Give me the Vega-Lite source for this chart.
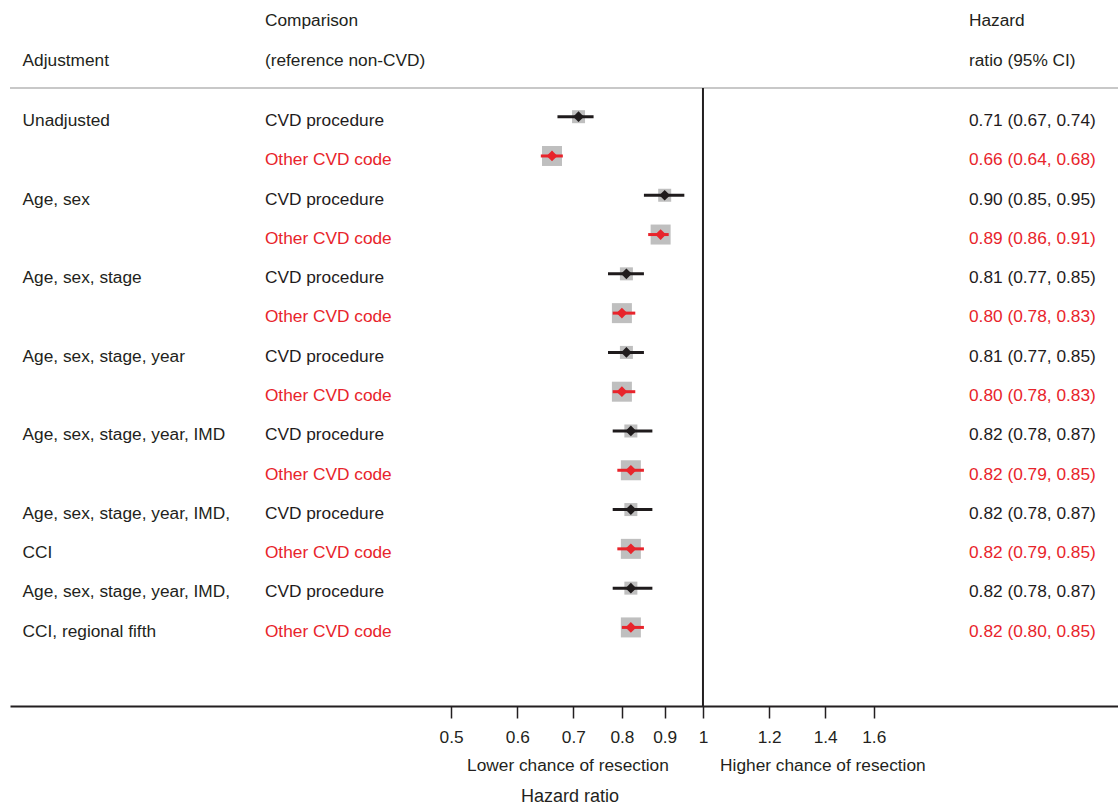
{
  "$schema": "https://vega.github.io/schema/vega-lite/v6.json",
  "width": 1108,
  "height": 706,
  "autosize": {"type": "none"},
  "padding": {"left": 10, "top": 0, "right": 0, "bottom": 98},
  "background": "white",
  "config": {"view": {"stroke": null}, "font": "Liberation Sans"},
  "datasets": {
    "rows": [
      {"row": 1, "adjustment": "Unadjusted", "comparison": "CVD procedure", "hr": 0.71, "lo": 0.67, "hi": 0.74, "ci": "0.71 (0.67, 0.74)"},
      {"row": 2, "adjustment": "", "comparison": "Other CVD code", "hr": 0.66, "lo": 0.64, "hi": 0.68, "ci": "0.66 (0.64, 0.68)"},
      {"row": 3, "adjustment": "Age, sex", "comparison": "CVD procedure", "hr": 0.90, "lo": 0.85, "hi": 0.95, "ci": "0.90 (0.85, 0.95)"},
      {"row": 4, "adjustment": "", "comparison": "Other CVD code", "hr": 0.89, "lo": 0.86, "hi": 0.91, "ci": "0.89 (0.86, 0.91)"},
      {"row": 5, "adjustment": "Age, sex, stage", "comparison": "CVD procedure", "hr": 0.81, "lo": 0.77, "hi": 0.85, "ci": "0.81 (0.77, 0.85)"},
      {"row": 6, "adjustment": "", "comparison": "Other CVD code", "hr": 0.80, "lo": 0.78, "hi": 0.83, "ci": "0.80 (0.78, 0.83)"},
      {"row": 7, "adjustment": "Age, sex, stage, year", "comparison": "CVD procedure", "hr": 0.81, "lo": 0.77, "hi": 0.85, "ci": "0.81 (0.77, 0.85)"},
      {"row": 8, "adjustment": "", "comparison": "Other CVD code", "hr": 0.80, "lo": 0.78, "hi": 0.83, "ci": "0.80 (0.78, 0.83)"},
      {"row": 9, "adjustment": "Age, sex, stage, year, IMD", "comparison": "CVD procedure", "hr": 0.82, "lo": 0.78, "hi": 0.87, "ci": "0.82 (0.78, 0.87)"},
      {"row": 10, "adjustment": "", "comparison": "Other CVD code", "hr": 0.82, "lo": 0.79, "hi": 0.85, "ci": "0.82 (0.79, 0.85)"},
      {"row": 11, "adjustment": "Age, sex, stage, year, IMD,", "comparison": "CVD procedure", "hr": 0.82, "lo": 0.78, "hi": 0.87, "ci": "0.82 (0.78, 0.87)"},
      {"row": 12, "adjustment": "CCI", "comparison": "Other CVD code", "hr": 0.82, "lo": 0.79, "hi": 0.85, "ci": "0.82 (0.79, 0.85)"},
      {"row": 13, "adjustment": "Age, sex, stage, year, IMD,", "comparison": "CVD procedure", "hr": 0.82, "lo": 0.78, "hi": 0.87, "ci": "0.82 (0.78, 0.87)"},
      {"row": 14, "adjustment": "CCI, regional fifth", "comparison": "Other CVD code", "hr": 0.82, "lo": 0.80, "hi": 0.85, "ci": "0.82 (0.80, 0.85)"}
    ]
  },
  "layer": [
    {
      "data": {"name": "rows"},
      "mark": {"type": "square", "filled": true, "color": "#bfbfbf", "opacity": 1},
      "encoding": {
        "x": {
          "field": "hr", "type": "quantitative",
          "scale": {"type": "log", "domain": [0.14848, 3.134], "nice": false},
          "axis": {
            "values": [0.5, 0.6, 0.7, 0.8, 0.9, 1, 1.2, 1.4, 1.6],
            "format": "~g",
            "grid": false,
            "domainColor": "#231f20", "domainWidth": 2,
            "tickColor": "#231f20", "tickWidth": 1.5, "tickSize": 12,
            "labelFont": "Liberation Sans", "labelFontSize": 17.3, "labelColor": "#231f20",
            "labelPadding": 10, "labelOverlap": false, "labelFlush": false,
            "title": "Hazard ratio",
            "titleFont": "Liberation Sans", "titleFontSize": 18, "titleFontWeight": "normal",
            "titleColor": "#231f20", "titleX": 559.5, "titleY": 95,
            "titleBaseline": "alphabetic", "titleAlign": "center", "titleAngle": 0
          }
        },
        "y": {
          "field": "row", "type": "quantitative",
          "scale": {"domain": [-1.97, 16], "reverse": true, "nice": false, "zero": false},
          "axis": null
        },
        "size": {
          "field": "comparison", "type": "ordinal",
          "scale": {"domain": ["CVD procedure", "Other CVD code"], "range": [169, 400]},
          "legend": null
        }
      }
    },
    {
      "data": {"values": [{}]},
      "mark": {"type": "rule", "color": "#c8c8c8", "strokeWidth": 2},
      "encoding": {
        "y": {"datum": 0.27, "type": "quantitative", "axis": null}
      }
    },
    {
      "data": {"values": [{}]},
      "mark": {"type": "rule", "color": "#231f20", "strokeWidth": 2},
      "encoding": {
        "x": {"datum": 1, "type": "quantitative"},
        "y": {"datum": 0.27, "type": "quantitative", "axis": null},
        "y2": {"datum": 16}
      }
    },
    {
      "data": {"name": "rows"},
      "mark": {"type": "rule", "strokeWidth": 3},
      "encoding": {
        "x": {"field": "lo", "type": "quantitative"},
        "x2": {"field": "hi"},
        "y": {"field": "row", "type": "quantitative", "axis": null},
        "color": {
          "field": "comparison", "type": "nominal",
          "scale": {"domain": ["CVD procedure", "Other CVD code"], "range": ["#1f1b1c", "#e8242b"]},
          "legend": null
        }
      }
    },
    {
      "data": {"name": "rows"},
      "mark": {"type": "point", "shape": "diamond", "filled": true, "opacity": 1, "size": 115},
      "encoding": {
        "x": {"field": "hr", "type": "quantitative"},
        "y": {"field": "row", "type": "quantitative", "axis": null},
        "color": {"field": "comparison", "type": "nominal", "legend": null}
      }
    },
    {
      "data": {"name": "rows"},
      "mark": {"type": "text", "align": "left", "baseline": "alphabetic", "dy": 9.3, "fontSize": 17.3, "font": "Liberation Sans", "color": "#231f20"},
      "encoding": {
        "x": {"datum": 0.1537, "type": "quantitative"},
        "y": {"field": "row", "type": "quantitative", "axis": null},
        "text": {"field": "adjustment"}
      }
    },
    {
      "data": {"name": "rows"},
      "mark": {"type": "text", "align": "left", "baseline": "alphabetic", "dy": 9.3, "fontSize": 17.3, "font": "Liberation Sans"},
      "encoding": {
        "x": {"datum": 0.2995, "type": "quantitative"},
        "y": {"field": "row", "type": "quantitative", "axis": null},
        "text": {"field": "comparison"},
        "color": {"field": "comparison", "type": "nominal", "legend": null}
      }
    },
    {
      "data": {"name": "rows"},
      "mark": {"type": "text", "align": "left", "baseline": "alphabetic", "dy": 9.3, "fontSize": 17.3, "font": "Liberation Sans"},
      "encoding": {
        "x": {"datum": 2.0797, "type": "quantitative"},
        "y": {"field": "row", "type": "quantitative", "axis": null},
        "text": {"field": "ci"},
        "color": {"field": "comparison", "type": "nominal", "legend": null}
      }
    },
    {
      "data": {"values": [{"label": "Adjustment"}]},
      "mark": {"type": "text", "align": "left", "baseline": "alphabetic", "dy": 9.3, "fontSize": 17.3, "font": "Liberation Sans", "color": "#231f20"},
      "encoding": {
        "x": {"datum": 0.1537, "type": "quantitative"},
        "y": {"datum": -0.527, "type": "quantitative", "axis": null},
        "text": {"field": "label"}
      }
    },
    {
      "data": {"values": [{"label": "Comparison"}]},
      "mark": {"type": "text", "align": "left", "baseline": "alphabetic", "dy": 9.3, "fontSize": 17.3, "font": "Liberation Sans", "color": "#231f20"},
      "encoding": {
        "x": {"datum": 0.2995, "type": "quantitative"},
        "y": {"datum": -1.545, "type": "quantitative", "axis": null},
        "text": {"field": "label"}
      }
    },
    {
      "data": {"values": [{"label": "(reference non-CVD)"}]},
      "mark": {"type": "text", "align": "left", "baseline": "alphabetic", "dy": 9.3, "fontSize": 17.3, "font": "Liberation Sans", "color": "#231f20"},
      "encoding": {
        "x": {"datum": 0.2995, "type": "quantitative"},
        "y": {"datum": -0.527, "type": "quantitative", "axis": null},
        "text": {"field": "label"}
      }
    },
    {
      "data": {"values": [{"label": "Hazard"}]},
      "mark": {"type": "text", "align": "left", "baseline": "alphabetic", "dy": 9.3, "fontSize": 17.3, "font": "Liberation Sans", "color": "#231f20"},
      "encoding": {
        "x": {"datum": 2.0797, "type": "quantitative"},
        "y": {"datum": -1.545, "type": "quantitative", "axis": null},
        "text": {"field": "label"}
      }
    },
    {
      "data": {"values": [{"label": "ratio (95% CI)"}]},
      "mark": {"type": "text", "align": "left", "baseline": "alphabetic", "dy": 9.3, "fontSize": 17.3, "font": "Liberation Sans", "color": "#231f20"},
      "encoding": {
        "x": {"datum": 2.0797, "type": "quantitative"},
        "y": {"datum": -0.527, "type": "quantitative", "axis": null},
        "text": {"field": "label"}
      }
    },
    {
      "data": {"values": [{"label": "Lower chance of resection"}]},
      "mark": {"type": "text", "align": "center", "baseline": "alphabetic", "fontSize": 17.3, "font": "Liberation Sans", "color": "#231f20"},
      "encoding": {
        "x": {"datum": 0.6896, "type": "quantitative"},
        "y": {"datum": 17.645, "type": "quantitative", "axis": null},
        "text": {"field": "label"}
      }
    },
    {
      "data": {"values": [{"label": "Higher chance of resection"}]},
      "mark": {"type": "text", "align": "center", "baseline": "alphabetic", "fontSize": 17.3, "font": "Liberation Sans", "color": "#231f20"},
      "encoding": {
        "x": {"datum": 1.391, "type": "quantitative"},
        "y": {"datum": 17.645, "type": "quantitative", "axis": null},
        "text": {"field": "label"}
      }
    }
  ]
}
